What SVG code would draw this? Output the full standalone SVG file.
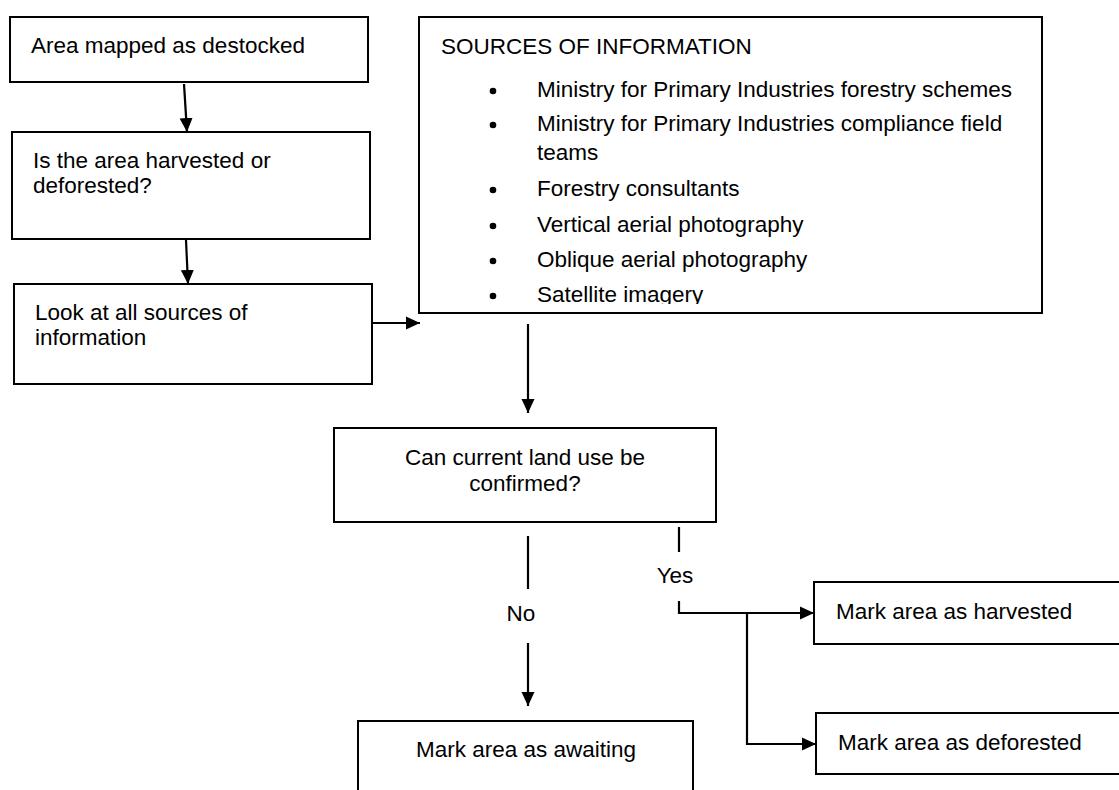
<svg xmlns="http://www.w3.org/2000/svg" width="1119" height="790" viewBox="0 0 1119 790">
<style>
.box{fill:#fff;stroke:#000;stroke-width:2}
.t{font-family:"Liberation Sans",Arial,sans-serif;font-size:22.5px;fill:#000}
.c{text-anchor:middle}
.ln{fill:none;stroke:#000;stroke-width:2.2}
</style>
<defs>
<marker id="ah" markerUnits="userSpaceOnUse" markerWidth="15" markerHeight="15" refX="14" refY="7" orient="auto">
<path d="M0,0.5 L14,7 L0,13.5 z" fill="#000"/>
</marker>
<clipPath id="srcclip"><rect x="419" y="17" width="623" height="287"/></clipPath>
</defs>
<rect width="1119" height="790" fill="#fff"/>
<g id="n-destocked">
<rect class="box" x="10" y="17" width="358" height="65"/>
<text class="t" x="31" y="53">Area mapped as destocked</text>
</g>
<g id="n-harvested-q">
<rect class="box" x="12" y="132" width="358" height="107"/>
<text class="t" x="33" y="168">Is the area harvested or</text>
<text class="t" x="33" y="193">deforested?</text>
</g>
<g id="n-look">
<rect class="box" x="14" y="284" width="358" height="100"/>
<text class="t" x="35" y="320">Look at all sources of</text>
<text class="t" x="35" y="345">information</text>
</g>
<g id="n-sources">
<rect class="box" x="419" y="17" width="623" height="296"/>
<g clip-path="url(#srcclip)">
<text class="t" x="441" y="54">SOURCES OF INFORMATION</text>
<g fill="#000">
<circle cx="493" cy="91" r="3.3"/>
<circle cx="493" cy="125" r="3.3"/>
<circle cx="493" cy="190" r="3.3"/>
<circle cx="493" cy="226" r="3.3"/>
<circle cx="493" cy="261" r="3.3"/>
<circle cx="493" cy="296" r="3.3"/>
</g>
<text class="t" x="537" y="97">Ministry for Primary Industries forestry schemes</text>
<text class="t" x="537" y="131">Ministry for Primary Industries compliance field</text>
<text class="t" x="537" y="160">teams</text>
<text class="t" x="537" y="196">Forestry consultants</text>
<text class="t" x="537" y="232">Vertical aerial photography</text>
<text class="t" x="537" y="267">Oblique aerial photography</text>
<text class="t" x="537" y="302">Satellite imagery</text>
</g>
</g>
<g id="n-confirm">
<rect class="box" x="334" y="428" width="382" height="94"/>
<text class="t c" x="525" y="465">Can current land use be</text>
<text class="t c" x="525" y="491">confirmed?</text>
</g>
<g id="n-awaiting">
<rect class="box" x="358" y="721" width="335" height="80"/>
<text class="t c" x="526" y="757">Mark area as awaiting</text>
</g>
<g id="n-harvested">
<rect class="box" x="814" y="582" width="320" height="62"/>
<text class="t" x="836" y="619">Mark area as harvested</text>
</g>
<g id="n-deforested">
<rect class="box" x="816" y="713" width="320" height="61"/>
<text class="t" x="838" y="750">Mark area as deforested</text>
</g>
<g id="connectors">
<line class="ln" x1="184" y1="84" x2="187" y2="132" marker-end="url(#ah)"/>
<line class="ln" x1="186" y1="240" x2="188" y2="284" marker-end="url(#ah)"/>
<line class="ln" x1="371" y1="323" x2="420" y2="323" marker-end="url(#ah)"/>
<line class="ln" x1="528" y1="324" x2="528" y2="413" marker-end="url(#ah)"/>
<line class="ln" x1="528" y1="536" x2="528" y2="589"/>
<text class="t c" x="521" y="621">No</text>
<line class="ln" x1="528" y1="643" x2="528" y2="706" marker-end="url(#ah)"/>
<line class="ln" x1="679" y1="527" x2="679" y2="552"/>
<text class="t c" x="675" y="583">Yes</text>
<polyline class="ln" points="679,601 679,613 814,613" marker-end="url(#ah)"/>
<polyline class="ln" points="747,613 747,744 816,744" marker-end="url(#ah)"/>
</g>
</svg>
